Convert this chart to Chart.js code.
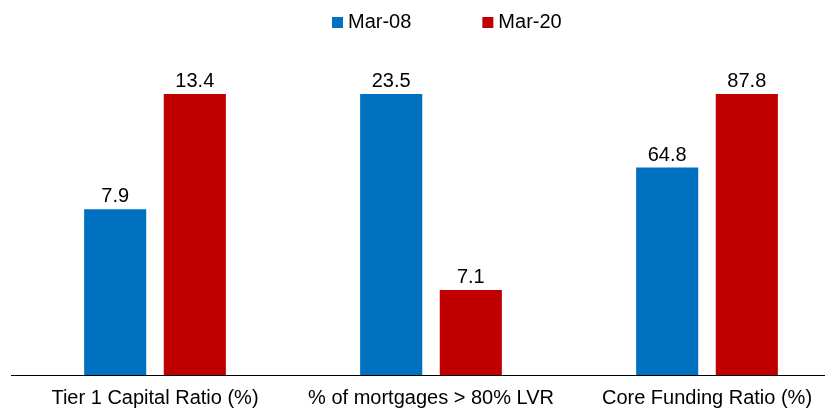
<!DOCTYPE html>
<html>
<head>
<meta charset="utf-8">
<script src="https://cdn.jsdelivr.net/npm/chart.js@4/dist/chart.umd.min.js"></script>
<style>
    html, body { margin: 0; padding: 0; background: #fff; overflow: hidden; }
    #wrap { width: 845px; height: 421px; }
</style>
</head>
<body>
<div id="wrap"><canvas id="canvas" width="845" height="421"></canvas></div>
<script>
const categories = ['Tier 1 Capital Ratio (%)', '% of mortgages > 80% LVR', 'Core Funding Ratio (%)'];
const seriesNames = ['Mar-08', 'Mar-20'];
const mar08 = [7.9, 23.5, 64.8];
const mar20 = [13.4, 7.1, 87.8];
const seriesColors = ['#0070C0', '#C00000'];

const FONT = '"Liberation Sans", Arial, sans-serif';

// each category is drawn on its own scale: bars are relative to the category max
function normalise(values) {
    return values.map((v, i) => v / Math.max(mar08[i], mar20[i]));
}

const rawValues = [mar08, mar20];

const valueLabels = {
    id: 'valueLabels',
    afterDatasetsDraw(chart) {
        const ctx = chart.ctx;
        ctx.save();
        ctx.font = '20px ' + FONT;
        ctx.fillStyle = '#000';
        ctx.textAlign = 'center';
        ctx.textBaseline = 'alphabetic';
        chart.data.datasets.forEach((ds, di) => {
            chart.getDatasetMeta(di).data.forEach((bar, i) => {
                ctx.fillText(rawValues[di][i].toFixed(1), bar.x, bar.y - 7);
            });
        });
        ctx.restore();
    }
};

// axis line runs a little further left than the plot area
const baseLine = {
    id: 'baseLine',
    afterDatasetsDraw(chart) {
        const ctx = chart.ctx;
        const y = Math.round(chart.scales.x.top) + 0.5;
        ctx.save();
        ctx.strokeStyle = '#000';
        ctx.lineWidth = 1;
        ctx.beginPath();
        ctx.moveTo(11, y);
        ctx.lineTo(chart.width, y);
        ctx.stroke();
        ctx.restore();
    }
};

const topLegend = {
    id: 'topLegend',
    afterDraw(chart) {
        const ctx = chart.ctx;
        ctx.save();
        ctx.font = '20px ' + FONT;
        ctx.textBaseline = 'alphabetic';
        ctx.textAlign = 'left';
        let x = 332;
        seriesNames.forEach((name, i) => {
            ctx.fillStyle = seriesColors[i];
            ctx.fillRect(x, 17, 11, 11);
            ctx.fillStyle = '#000';
            ctx.fillText(name, x + 16, 28);
            x += 16 + ctx.measureText(name).width + 71;
        });
        ctx.restore();
    }
};

new Chart(document.getElementById('canvas').getContext('2d'), {
    type: 'bar',
    data: {
        labels: categories,
        datasets: [
            {
                label: seriesNames[0],
                data: normalise(mar08),
                backgroundColor: seriesColors[0],
                categoryPercentage: 0.577,
                barPercentage: 0.78
            },
            {
                label: seriesNames[1],
                data: normalise(mar20),
                backgroundColor: seriesColors[1],
                categoryPercentage: 0.577,
                barPercentage: 0.78
            }
        ]
    },
    options: {
        responsive: false,
        animation: false,
        devicePixelRatio: 1,
        layout: { padding: { top: 94, left: 17, right: 0, bottom: 0 } },
        plugins: {
            legend: { display: false },
            tooltip: { enabled: false }
        },
        scales: {
            x: {
                grid: { display: false, drawTicks: false },
                border: { display: false },
                ticks: {
                    color: '#000',
                    padding: 11,
                    maxRotation: 0,
                    autoSkip: false,
                    font: { family: FONT, size: 20 }
                }
            },
            y: {
                display: false,
                min: 0,
                max: 1
            }
        }
    },
    plugins: [valueLabels, baseLine, topLegend]
});
</script>
</body>
</html>
